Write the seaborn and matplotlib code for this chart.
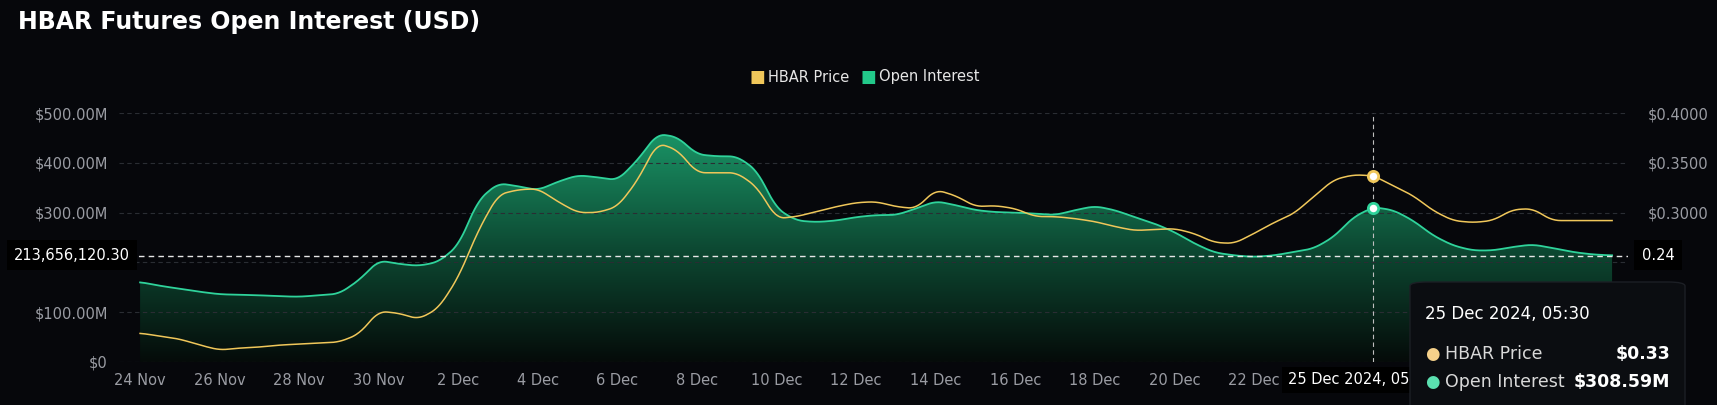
import numpy as np
import pandas as pd
import matplotlib
matplotlib.use("Agg")
import matplotlib.pyplot as plt
import seaborn as sns
from matplotlib.patches import FancyBboxPatch

# data (half-day steps from 24 Nov)
days = np.arange(0, 37.5, 0.5)
open_interest_m = [
    160.6, 153, 147, 141, 136, 135, 134, 132, 131, 134, 137, 164,
    204, 197, 193, 201, 234, 325, 359, 353, 345, 362, 375, 371,
    365, 405, 458, 452, 417, 413, 413, 385, 308, 284, 281, 284,
    291, 295, 295, 308, 323, 315, 305, 301, 300, 298, 295, 305,
    313, 305, 291, 278, 261, 238, 220, 214, 211, 214, 221, 228,
    251, 291, 311, 305, 284, 254, 234, 224, 224, 231, 236, 229,
    221, 216, 214,
]
hbar_price = [
    0.179, 0.176, 0.173, 0.167, 0.162, 0.164, 0.165, 0.167, 0.168, 0.169, 0.170, 0.178,
    0.201, 0.199, 0.193, 0.204, 0.235, 0.282, 0.318, 0.323, 0.324, 0.311, 0.300, 0.300,
    0.306, 0.332, 0.370, 0.363, 0.340, 0.340, 0.340, 0.326, 0.294, 0.296, 0.301, 0.306,
    0.310, 0.311, 0.306, 0.304, 0.323, 0.317, 0.306, 0.307, 0.304, 0.296, 0.296, 0.294,
    0.291, 0.286, 0.282, 0.283, 0.284, 0.279, 0.270, 0.269, 0.279, 0.290, 0.299, 0.316,
    0.333, 0.338, 0.337, 0.327, 0.317, 0.302, 0.292, 0.290, 0.292, 0.303, 0.304, 0.292,
    0.292, 0.292, 0.292,
]
tick_days = list(range(0, 30, 2))
tick_labels = ["24 Nov", "26 Nov", "28 Nov", "30 Nov", "2 Dec", "4 Dec", "6 Dec", "8 Dec",
               "10 Dec", "12 Dec", "14 Dec", "16 Dec", "18 Dec", "20 Dec", "22 Dec"]
left_ticks = [0, 100, 200, 300, 400, 500]
left_labels = ["$0", "$100.00M", "", "$300.00M", "$400.00M", "$500.00M"]
right_ticks = [0.30, 0.35, 0.40]
right_labels = ["$0.3000", "$0.3500", "$0.4000"]
hover_day = 31.0
hover_price = 0.337
hover_oi = 308.59
cross_oi = 213.65612030

df = pd.DataFrame({"day": days, "oi": open_interest_m, "price": hbar_price})

BG = "#06070b"
GREEN = "#2fd39b"
YELLOW = "#f0c75a"
GREY = "#9a9ca3"

W, H = 1717, 405
fig = plt.figure(figsize=(W / 100, H / 100), dpi=100, facecolor=BG)
ax = fig.add_axes([119 / W, 1 - 362 / H, (1628 - 119) / W, (362 - 113) / H])
ax.set_facecolor(BG)
ax.set_xlim(-0.53, 37.4)
ax.set_ylim(0, 500)

# smooth the series for drawing
fine = np.linspace(0, 37, 1500)
oi_s = np.interp(fine, df["day"], df["oi"])
pr_s = np.interp(fine, df["day"], df["price"])
k = np.ones(17) / 17
oi_s = np.convolve(np.pad(oi_s, 8, mode="edge"), k, mode="valid")
pr_s = np.convolve(np.pad(pr_s, 8, mode="edge"), k, mode="valid")
smooth = pd.DataFrame({"day": fine, "oi": oi_s, "price": pr_s})

# gradient fill under OI
grad = np.linspace(0, 1, 256).reshape(-1, 1)
cmap = matplotlib.colors.LinearSegmentedColormap.from_list("g", ["#050b09", "#0d4a33", "#1a9466"])
poly = ax.fill_between(smooth["day"], smooth["oi"], 0, color="none", lw=0)
img = ax.imshow(grad, extent=[0, 37, 0, 460], origin="lower", aspect="auto", cmap=cmap, zorder=1)
img.set_clip_path(poly.get_paths()[0], transform=ax.transData)
sns.lineplot(data=smooth, x="day", y="oi", ax=ax, color=GREEN, lw=1.3, zorder=3)

ax2 = ax.twinx()
ax2.set_ylim(0.15, 0.40)
sns.lineplot(data=smooth, x="day", y="price", ax=ax2, color=YELLOW, lw=1.1, zorder=3)
ax2.set_xlim(-0.53, 37.4)

for a in (ax, ax2):
    for s in a.spines.values():
        s.set_visible(False)
    a.set_xlabel("")
    a.set_ylabel("")

ax.set_yticks(left_ticks)
ax.set_yticklabels(left_labels, color=GREY, fontsize=10.5)
ax.tick_params(axis="y", length=0, pad=8)
ax.grid(axis="y", color="#2a2d33", ls=(0, (4, 3)), lw=0.8)
ax.set_xticks(tick_days)
ax.set_xticklabels(tick_labels, color=GREY, fontsize=10.5)
ax.tick_params(axis="x", length=0, pad=8)
ax2.set_yticks(right_ticks)
ax2.set_yticklabels(right_labels, color=GREY, fontsize=10.5)
ax2.tick_params(axis="y", length=0, pad=14)
ax2.grid(False)

# crosshair
ax.axhline(cross_oi, color="#e6e6e6", ls=(0, (4, 3)), lw=1.0, zorder=4)
ax.axvline(hover_day, color="#bfbfbf", ls=(0, (4, 3)), lw=0.8, zorder=4)
ax.scatter([hover_day], [hover_oi], s=55, color="white", edgecolor=GREEN, lw=2, zorder=6)
ax2.scatter([hover_day], [hover_price], s=55, color="white", edgecolor=YELLOW, lw=2, zorder=6)

fig.text(72 / W, 1 - 255 / H, "213,656,120.30", color="white", fontsize=10.5, ha="center", va="center",
         bbox=dict(boxstyle="square,pad=0.5", fc="black", ec="none"))
fig.text(1658 / W, 1 - 255 / H, "0.24", color="white", fontsize=10.5, ha="center", va="center",
         bbox=dict(boxstyle="square,pad=0.5", fc="black", ec="none"))
fig.text(1360 / W, 1 - 380 / H, "25 Dec 2024, 05:30", color="white", fontsize=10.5, ha="center", va="center",
         bbox=dict(boxstyle="square,pad=0.4", fc="black", ec="none"))

# tooltip
tip = FancyBboxPatch((1410 / W, -0.05), 275 / W, (405 - 282) / H + 0.05,
                     boxstyle="round,pad=0,rounding_size=0.01", transform=fig.transFigure,
                     fc="#0b0d11", ec="#1c1f25", lw=1, zorder=10)
fig.add_artist(tip)
fig.text(1425 / W, 1 - 314 / H, "25 Dec 2024, 05:30", color="white", fontsize=12, va="center", zorder=11)
fig.text(1432 / W, 1 - 354 / H, "\u25cf", color="#f5d08a", fontsize=12, ha="center", va="center", zorder=11)
fig.text(1445 / W, 1 - 354 / H, "HBAR Price", color="#d9d9d9", fontsize=12.5, va="center", zorder=11)
fig.text(1670 / W, 1 - 354 / H, "$0.33", color="white", fontsize=12.5, fontweight="bold", ha="right", va="center", zorder=11)
fig.text(1432 / W, 1 - 382 / H, "\u25cf", color="#5be0b0", fontsize=12, ha="center", va="center", zorder=11)
fig.text(1445 / W, 1 - 382 / H, "Open Interest", color="#d9d9d9", fontsize=12.5, va="center", zorder=11)
fig.text(1670 / W, 1 - 382 / H, "$308.59M", color="white", fontsize=12.5, fontweight="bold", ha="right", va="center", zorder=11)

# title and legend
fig.text(18 / W, 1 - 22 / H, "HBAR Futures Open Interest (USD)", color="white", fontsize=17, fontweight="bold", va="center")
fig.text(757 / W, 1 - 77 / H, "\u25a0", color=YELLOW, fontsize=12, ha="center", va="center")
fig.text(768 / W, 1 - 77 / H, "HBAR Price", color="#e6e6e6", fontsize=10.5, va="center")
fig.text(868 / W, 1 - 77 / H, "\u25a0", color="#22c98a", fontsize=12, ha="center", va="center")
fig.text(879 / W, 1 - 77 / H, "Open Interest", color="#e6e6e6", fontsize=10.5, va="center")

fig.savefig("out.png", dpi=100, facecolor=BG)
